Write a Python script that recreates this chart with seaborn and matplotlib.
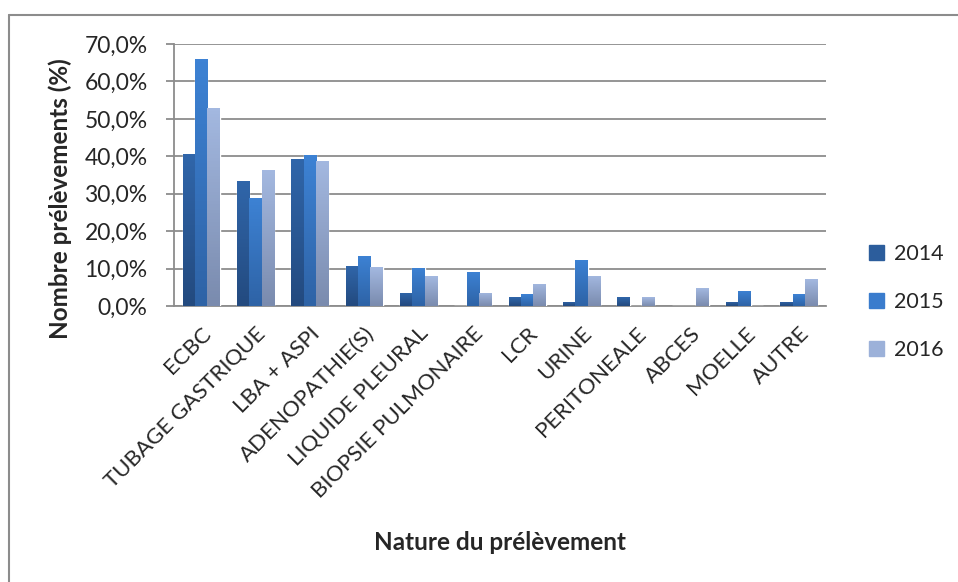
import numpy as np
import pandas as pd
import matplotlib
matplotlib.use("Agg")
import matplotlib.pyplot as plt
from matplotlib.lines import Line2D
import seaborn as sns

categories = ["ECBC", "TUBAGE GASTRIQUE", "LBA + ASPI", "ADENOPATHIE(S)",
              "LIQUIDE PLEURAL", "BIOPSIE PULMONAIRE", "LCR", "URINE",
              "PERITONEALE", "ABCES", "MOELLE", "AUTRE"]
years = ["2014", "2015", "2016"]
v2014 = [40.6, 33.4, 39.3, 10.7, 3.5, 0.0, 2.3, 1.2, 2.3, 0.0, 1.2, 1.2]
v2015 = [66.0, 28.9, 40.3, 13.4, 10.2, 9.2, 3.1, 12.4, 0.0, 0.0, 4.1, 3.1]
v2016 = [52.9, 36.3, 38.7, 10.4, 8.0, 3.6, 6.0, 8.1, 2.3, 4.7, 0.0, 7.1]
yticks = [0, 10, 20, 30, 40, 50, 60, 70]

df = pd.DataFrame({
    "cat": categories * 3,
    "year": [y for y in years for _ in categories],
    "val": v2014 + v2015 + v2016,
})

colors = {"2014": "#2C5D9C", "2015": "#3A7CCD", "2016": "#9CB1D9"}
# top / bottom colours for the gradient look
grad = {"2014": ("#3066AA", "#234A7F"),
        "2015": ("#3D82D4", "#2E63A6"),
        "2016": ("#A3B8E0", "#7A8BAE")}

sns.set_style("white")
plt.rcParams["font.family"] = ["Lato", "DejaVu Sans"]

fig = plt.figure(figsize=(9.58, 5.82), dpi=100)
ax = fig.add_axes([174 / 958, 1 - 306 / 582, 652 / 958, 262 / 582])

sns.barplot(data=df, x="cat", y="val", hue="year", hue_order=years, palette=colors,
            saturation=1, width=0.685, gap=0, ax=ax, legend=False, zorder=3)

# vertical gradient on every bar
gimg = np.linspace(0, 1, 64).reshape(-1, 1)
for year, cont in zip(years, ax.containers):
    cmap = matplotlib.colors.LinearSegmentedColormap.from_list("g", [grad[year][1], grad[year][0]])
    for patch in cont:
        h = patch.get_height()
        if h <= 0:
            continue
        x0 = patch.get_x()
        w = patch.get_width()
        im = ax.imshow(gimg, cmap=cmap, aspect="auto", origin="lower",
                       extent=[x0, x0 + w, 0, h], zorder=4)
        im.set_clip_path(patch)

ax.set_xlim(-0.5, len(categories) - 0.5)
ax.set_ylim(0, 70)
ax.set_yticks(yticks)
ax.set_yticklabels([f"{t:.1f}%".replace(".", ",") for t in yticks], fontsize=16.5)
ax.yaxis.grid(True, color="#8C8C8C", linewidth=1.3, zorder=0)
ax.set_axisbelow(True)
for s in ["top", "right"]:
    ax.spines[s].set_visible(False)
for s in ["left", "bottom"]:
    ax.spines[s].set_color("#8C8C8C")
    ax.spines[s].set_linewidth(1.3)
ax.tick_params(axis="y", which="major", left=True, length=6, width=1.3,
               color="#8C8C8C", pad=13)
ax.tick_params(axis="x", bottom=False, pad=9)
plt.setp(ax.get_xticklabels(), rotation=45, ha="right", rotation_mode="anchor",
         fontsize=16)
ax.set_xlabel("")
ax.set_ylabel("")

fig.text(60 / 958, 1 - 199 / 582, "Nombre prélèvements (%)", rotation=90,
         ha="center", va="center", fontsize=17.5, fontweight="bold")
fig.text(500 / 958, 1 - 543 / 582, "Nature du prélèvement", ha="center",
         va="center", fontsize=17.5, fontweight="bold")

handles = [plt.Rectangle((0, 0), 1, 1, color=colors[y]) for y in years]
fig.legend(handles, years, loc="center left", bbox_to_anchor=(850 / 958, 1 - 302 / 582),
           frameon=False, fontsize=15.5, labelspacing=1.3, handlelength=0.7,
           handleheight=0.7, handletextpad=0.45)

# chart border (top and left edges visible)
fig.add_artist(Line2D([9 / 958, 9 / 958], [0, 1 - 15 / 582], transform=fig.transFigure,
                      color="#8C8C8C", linewidth=1.5))
fig.add_artist(Line2D([9 / 958, 1], [1 - 15 / 582, 1 - 15 / 582], transform=fig.transFigure,
                      color="#8C8C8C", linewidth=1.5))

fig.savefig("out.png", dpi=100)
